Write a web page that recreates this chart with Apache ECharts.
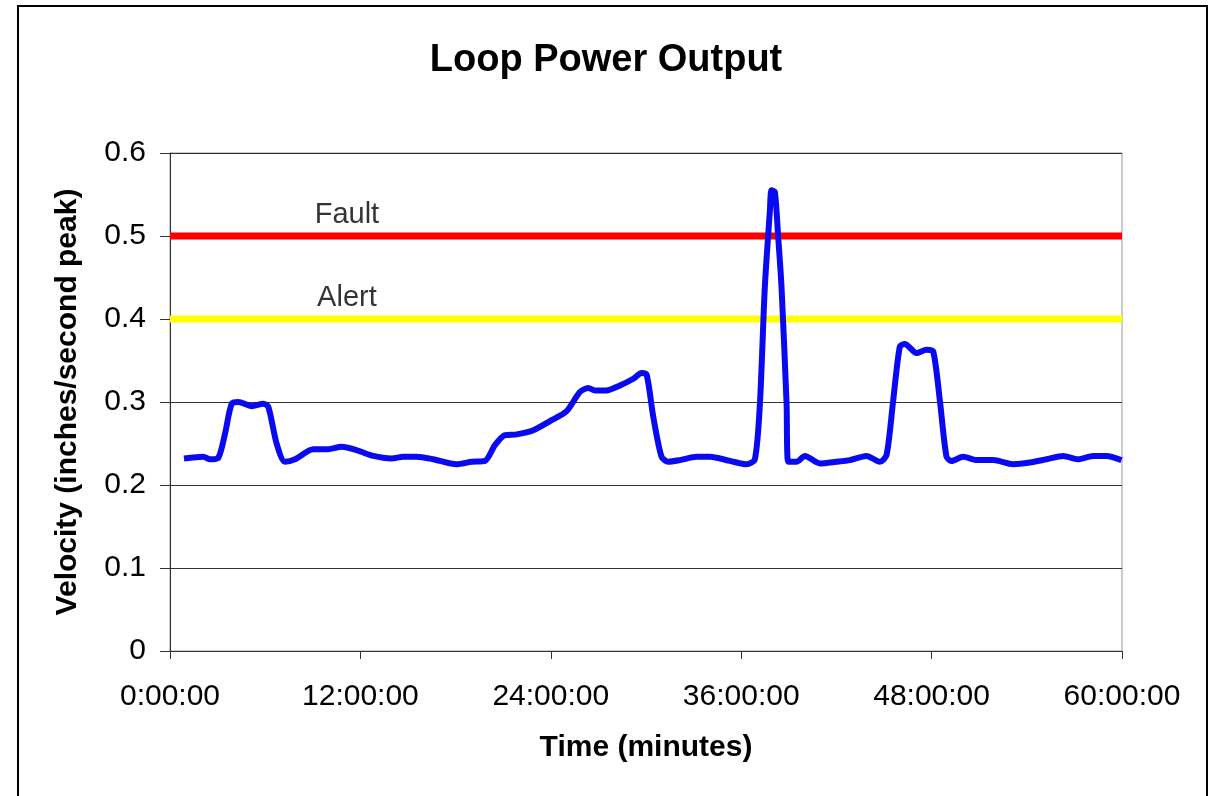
<!DOCTYPE html>
<html>
<head>
<meta charset="utf-8">
<script src="https://cdn.jsdelivr.net/npm/echarts@6/dist/echarts.min.js"></script>
<style>html,body{margin:0;padding:0;background:#fff;}#chart{width:1212px;height:796px;}</style>
</head>
<body>
<div id="chart"></div>
<script>
const titleText = 'Loop Power Output';
const xTicks = [0, 12, 24, 36, 48, 60];
const times = [0.88, 2.1, 2.52, 3.05, 3.47, 3.89, 4.31, 5.15, 5.88, 6.2, 6.72, 7.25, 7.88, 9.03, 9.87, 10.82, 11.76, 12.81, 13.97, 14.7, 15.54, 16.59, 18.06, 19.01, 19.85, 20.48, 21.11, 21.85, 22.9, 23.95, 25.0, 25.83, 26.36, 26.78, 27.52, 28.36, 29.2, 29.72, 30.04, 30.46, 30.98, 31.4, 32.14, 33.19, 34.03, 35.29, 36.34, 36.86, 37.18, 37.49, 37.81, 37.91, 38.12, 38.33, 38.54, 38.86, 38.96, 39.49, 40.01, 40.96, 42.0, 42.85, 43.9, 44.74, 45.16, 45.58, 46.0, 46.31, 47.05, 47.68, 48.1, 48.52, 48.94, 49.25, 49.99, 50.83, 51.88, 53.14, 54.19, 55.24, 56.29, 57.23, 58.18, 59.02, 59.97];
const velocity = [0.232, 0.234, 0.231, 0.233, 0.262, 0.298, 0.300, 0.295, 0.298, 0.294, 0.250, 0.228, 0.231, 0.243, 0.243, 0.246, 0.242, 0.235, 0.232, 0.234, 0.234, 0.231, 0.225, 0.228, 0.229, 0.248, 0.260, 0.261, 0.266, 0.277, 0.289, 0.312, 0.317, 0.314, 0.314, 0.320, 0.328, 0.335, 0.333, 0.282, 0.234, 0.228, 0.230, 0.234, 0.234, 0.229, 0.225, 0.231, 0.298, 0.439, 0.531, 0.555, 0.553, 0.499, 0.439, 0.298, 0.228, 0.228, 0.235, 0.226, 0.228, 0.230, 0.235, 0.228, 0.236, 0.302, 0.367, 0.370, 0.359, 0.363, 0.361, 0.302, 0.234, 0.229, 0.234, 0.230, 0.230, 0.225, 0.227, 0.231, 0.235, 0.231, 0.235, 0.235, 0.230];
const faultLevel = 0.5;
const alertLevel = 0.4;
const thresholdNames = ['Fault', 'Alert'];
const thresholdLabelX = 11.15;

const FONT = '"Liberation Sans", Arial, sans-serif';
const chart = echarts.init(document.getElementById('chart'), null, {renderer: 'canvas'});
const mainData = times.map((t, i) => [t, velocity[i]]);

chart.setOption({
  animation: false,
  backgroundColor: '#fff',
  graphic: [{
    type: 'rect', left: 17, top: 5, z: -10,
    shape: {width: 1189, height: 800},
    style: {fill: '#fff', stroke: '#000', lineWidth: 2}
  }],
  title: {
    text: titleText, left: 'center', top: 37,
    textStyle: {fontFamily: FONT, fontSize: 38, fontWeight: 'bold', color: '#000'}
  },
  grid: {
    left: 170, top: 153, width: 952, height: 498,
    show: true, borderColor: '#999', borderWidth: 1, backgroundColor: 'transparent'
  },
  xAxis: {
    type: 'value', min: 0, max: 60, interval: 12,
    name: 'Time (minutes)', nameLocation: 'middle', nameGap: 82,
    nameTextStyle: {fontFamily: FONT, fontSize: 30, fontWeight: 'bold', color: '#000'},
    axisLine: {show: true, onZero: false, lineStyle: {color: '#333', width: 1}},
    axisTick: {show: true, length: 8, lineStyle: {color: '#333'}},
    axisLabel: {
      fontFamily: FONT, fontSize: 30, color: '#000', margin: 31,
      formatter: v => xTicks.includes(v) ? v + ':00:00' : ''
    },
    splitLine: {show: false}
  },
  yAxis: {
    type: 'value', min: 0, max: 0.6, interval: 0.1,
    name: 'Velocity (inches/second peak)', nameLocation: 'middle', nameGap: 87,
    nameTextStyle: {fontFamily: FONT, fontSize: 30, fontWeight: 'bold', color: '#000'},
    axisLine: {show: true, lineStyle: {color: '#333', width: 1}},
    axisTick: {show: true, length: 10, lineStyle: {color: '#333'}},
    axisLabel: {
      fontFamily: FONT, fontSize: 30, color: '#000', margin: 24,
      formatter: v => v === 0 ? '0' : v.toFixed(1)
    },
    splitLine: {show: true, lineStyle: {color: '#333', width: 1}}
  },
  series: [
    {
      type: 'line', name: 'Fault line', data: [[0, faultLevel], [60, faultLevel]],
      symbol: 'none', lineStyle: {color: '#ff0000', width: 7}, z: 2, silent: true
    },
    {
      type: 'line', name: 'Alert line', data: [[0, alertLevel], [60, alertLevel]],
      symbol: 'none', lineStyle: {color: '#ffff00', width: 7}, z: 2, silent: true
    },
    {
      type: 'scatter', name: 'labels',
      data: [[thresholdLabelX, faultLevel, thresholdNames[0]], [thresholdLabelX, alertLevel, thresholdNames[1]]],
      symbolSize: 0, silent: true,
      label: {
        show: true, position: 'top', distance: 7,
        formatter: p => p.data[2],
        fontFamily: FONT, fontSize: 29, color: '#000'
      }
    },
    {
      type: 'line', name: 'Velocity', data: mainData,
      symbol: 'none', smooth: 0.25,
      lineStyle: {color: '#0a0af0', width: 6}, z: 5
    }
  ]
});
</script>
</body>
</html>
